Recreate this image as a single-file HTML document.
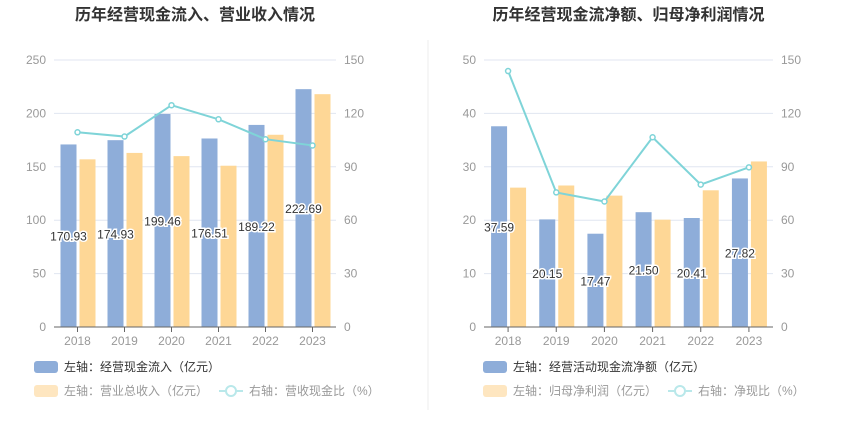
<!DOCTYPE html>
<html><head><meta charset="utf-8"><style>
body{margin:0;background:#fff;font-family:"Liberation Sans","Noto Sans CJK SC",sans-serif;}
svg text{font-family:"Liberation Sans","Noto Sans CJK SC",sans-serif;}
</style></head><body>
<svg id="c" width="850" height="437">
<line x1="428" y1="40" x2="428" y2="410" stroke="#eee"/>
</svg>
<script>
const years=["2018","2019","2020","2021","2022","2023"];
const inflow=[170.93,174.93,199.46,176.51,189.22,222.69];
const revenue=[157,163,160,151,180,218];
const ratio1=[109.4,107,124.6,116.7,105.5,102];
const netCash=[37.59,20.15,17.47,21.50,20.41,27.82];
const netProfit=[26.1,26.5,24.6,20.1,25.6,31.0];
const ratio2=[143.8,75.6,70.5,106.6,80,89.7];
const leftTicks1=[0,50,100,150,200,250];
const leftTicks2=[0,10,20,30,40,50];
const rightTicks=[0,30,60,90,120,150];

const svg=document.getElementById('c');
const NS='http://www.w3.org/2000/svg';
function mk(tag,at,txt){const e=document.createElementNS(NS,tag);for(const k in at)e.setAttribute(k,at[k]);if(txt!=null)e.textContent=txt;svg.appendChild(e);return e;}

function chart(o){
  const top=60,bot=327,x0=o.x0,x1=o.x1,cw=(x1-x0)/years.length;
  const yl=v=>bot-(v/o.lmax)*(bot-top);
  const yr=v=>bot-(v/150)*(bot-top);
  const cx=i=>x0+cw*(i+0.5);
  let t=mk('text',{x:(x0+x1)/2,y:20,'text-anchor':'middle','font-size':16,'font-weight':'bold',fill:'#333'},o.title);
  
  o.lticks.forEach((v,i)=>{
    const y=yl(v);
    if(v>0){const g=mk('line',{x1:x0,x2:x1,y1:y,y2:y,stroke:'#e0e6f1'});}
    let a=mk('text',{x:x0-8,y:y+4,'text-anchor':'end','font-size':12,fill:'#999'},v);
    
    let b=mk('text',{x:x1+8,y:yr(rightTicks[i])+4,'font-size':12,fill:'#999'},rightTicks[i]);
    
  });
  years.forEach((yname,i)=>{
    const c=cx(i);
    let r=mk('rect',{x:c-17,y:yl(o.a[i]),width:16,height:bot-yl(o.a[i]),fill:'#8eadd9'});
    
    let r2=mk('rect',{x:c+2,y:yl(o.b[i]),width:16,height:bot-yl(o.b[i]),fill:'#fed796'});
    
    let tk=mk('line',{x1:c,x2:c,y1:bot,y2:bot+5,stroke:'#666'});
    
    let xl=mk('text',{x:c,y:bot+18,'text-anchor':'middle','font-size':12,fill:'#999'},yname);
    
  });
  let ax=mk('line',{x1:x0,x2:x1,y1:bot,y2:bot,stroke:'#666'});
  
  let pts=o.r.map((v,i)=>cx(i)+','+yr(v)).join(' ');
  let pl=mk('polyline',{points:pts,fill:'none',stroke:'#7fd4d8','stroke-width':2});
  
  o.r.forEach((v,i)=>{let p=mk('circle',{cx:cx(i),cy:yr(v),r:2.5,fill:'#fff',stroke:'#7fd4d8','stroke-width':1.5});
    });
  o.a.forEach((v,i)=>{
    const c=cx(i)-9,y=(yl(v)+bot)/2+5;
    let l=mk('text',{x:c,y:y,'text-anchor':'middle','font-size':12,fill:'#333',stroke:'#fff','stroke-width':3,'paint-order':'stroke'},o.fmt(v));
    
  });
  const lx=o.lx;
  let s1=mk('rect',{x:lx,y:361,width:24,height:12,rx:3,fill:'#8eadd9'});
  let t1=mk('text',{x:lx+30,y:371,'font-size':12,fill:'#333'},o.l1);
  let s2=mk('rect',{x:lx,y:385,width:24,height:12,rx:3,fill:'#fee6c0'});
  let t2=mk('text',{x:lx+30,y:395,'font-size':12,fill:'#999'},o.l2);
  let ll=mk('line',{x1:o.l3x,x2:o.l3x+24,y1:391,y2:391,stroke:'#b9e8ea','stroke-width':2});
  let lc=mk('circle',{cx:o.l3x+12,cy:391,r:5,fill:'#fff',stroke:'#b9e8ea','stroke-width':2});
  let t3=mk('text',{x:o.l3x+30,y:395,'font-size':12,fill:'#999'},o.l3);
}
chart({x0:54,x1:336,lmax:250,lticks:leftTicks1,a:inflow,b:revenue,r:ratio1,fmt:v=>v.toFixed(2),
  title:'历年经营现金流入、营业收入情况',lx:34,l1:'左轴：经营现金流入（亿元）',l2:'左轴：营业总收入（亿元）',l3x:219,l3:'右轴：营收现金比（%）'});
chart({x0:484,x1:773,lmax:50,lticks:leftTicks2,a:netCash,b:netProfit,r:ratio2,fmt:v=>v.toFixed(2),
  title:'历年经营现金流净额、归母净利润情况',lx:483,l1:'左轴：经营活动现金流净额（亿元）',l2:'左轴：归母净利润（亿元）',l3x:668,l3:'右轴：净现比（%）'});
</script>
</body></html>
